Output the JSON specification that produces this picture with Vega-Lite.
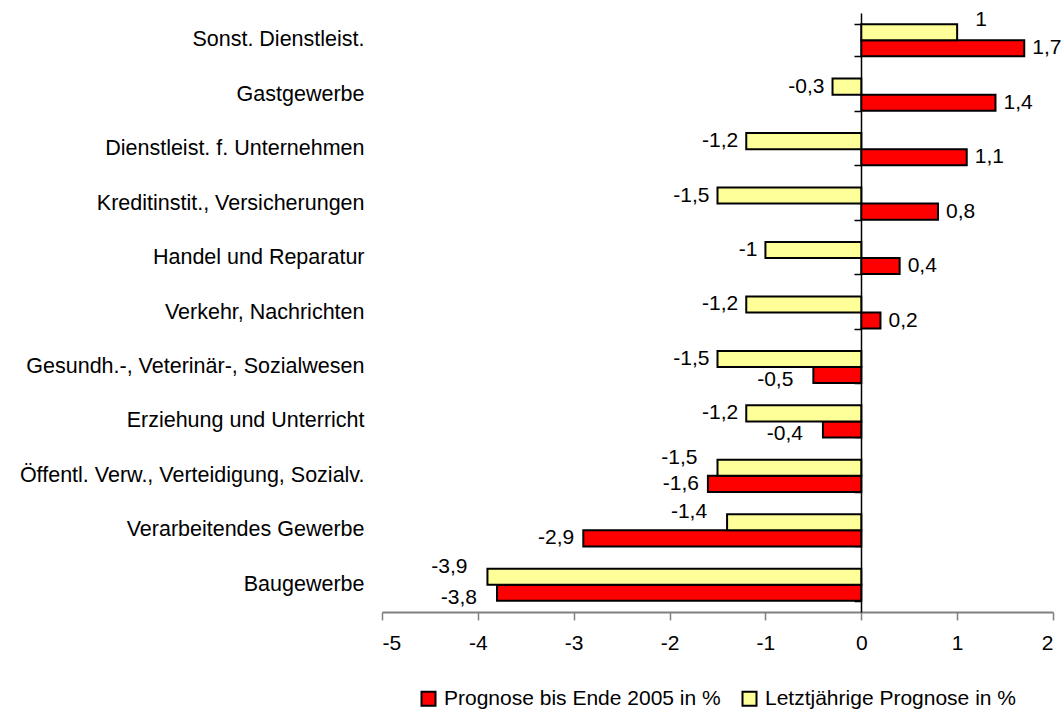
{
  "$schema": "https://vega.github.io/schema/vega-lite/v6.json",
  "width": 671,
  "height": 599,
  "autosize": {"type": "none"},
  "padding": {"left": 382, "top": 13, "right": 10, "bottom": 101},
  "background": "white",
  "config": {
    "locale": {"number": {"decimal": ",", "thousands": ".", "grouping": [3], "currency": ["", " €"], "minus": "-"}},
    "font": "Liberation Sans",
    "view": {"stroke": null},
    "axis": {"labelFont": "Liberation Sans", "labelFontSize": 21, "labelColor": "black", "grid": false, "title": null, "labelLimit": 600},
    "legend": {"labelFont": "Liberation Sans", "labelFontSize": 21, "labelColor": "black", "labelLimit": 600},
    "text": {"fontSize": 21, "color": "black", "baseline": "middle", "font": "Liberation Sans"}
  },
  "data": {
    "values": [
      {"category": "Sonst. Dienstleist.", "series": "Prognose bis Ende 2005 in %", "value": 1.7},
      {"category": "Sonst. Dienstleist.", "series": "Letztjährige Prognose in %", "value": 1},
      {"category": "Gastgewerbe", "series": "Prognose bis Ende 2005 in %", "value": 1.4},
      {"category": "Gastgewerbe", "series": "Letztjährige Prognose in %", "value": -0.3},
      {"category": "Dienstleist. f. Unternehmen", "series": "Prognose bis Ende 2005 in %", "value": 1.1},
      {"category": "Dienstleist. f. Unternehmen", "series": "Letztjährige Prognose in %", "value": -1.2},
      {"category": "Kreditinstit., Versicherungen", "series": "Prognose bis Ende 2005 in %", "value": 0.8},
      {"category": "Kreditinstit., Versicherungen", "series": "Letztjährige Prognose in %", "value": -1.5},
      {"category": "Handel und Reparatur", "series": "Prognose bis Ende 2005 in %", "value": 0.4},
      {"category": "Handel und Reparatur", "series": "Letztjährige Prognose in %", "value": -1},
      {"category": "Verkehr, Nachrichten", "series": "Prognose bis Ende 2005 in %", "value": 0.2},
      {"category": "Verkehr, Nachrichten", "series": "Letztjährige Prognose in %", "value": -1.2},
      {"category": "Gesundh.-, Veterinär-, Sozialwesen", "series": "Prognose bis Ende 2005 in %", "value": -0.5},
      {"category": "Gesundh.-, Veterinär-, Sozialwesen", "series": "Letztjährige Prognose in %", "value": -1.5},
      {"category": "Erziehung und Unterricht", "series": "Prognose bis Ende 2005 in %", "value": -0.4},
      {"category": "Erziehung und Unterricht", "series": "Letztjährige Prognose in %", "value": -1.2},
      {"category": "Öffentl. Verw., Verteidigung, Sozialv. ", "series": "Prognose bis Ende 2005 in %", "value": -1.6},
      {"category": "Öffentl. Verw., Verteidigung, Sozialv. ", "series": "Letztjährige Prognose in %", "value": -1.5},
      {"category": "Verarbeitendes Gewerbe ", "series": "Prognose bis Ende 2005 in %", "value": -2.9},
      {"category": "Verarbeitendes Gewerbe ", "series": "Letztjährige Prognose in %", "value": -1.4},
      {"category": "Baugewerbe", "series": "Prognose bis Ende 2005 in %", "value": -3.8},
      {"category": "Baugewerbe", "series": "Letztjährige Prognose in %", "value": -3.9}
    ]
  },
  "encoding": {
    "x": {"field": "value", "type": "quantitative", "scale": {"domain": [-5, 2], "nice": false},
          "axis": {"values": [-5, -4, -3, -2, -1, 0, 1, 2], "format": "d", "domainColor": "#808080", "domainWidth": 2, "tickColor": "#808080", "tickWidth": 1.5, "tickSize": 8, "labelPadding": 12, "title": null}},
    "y": {"field": "category", "type": "nominal", "sort": null, "axis": null},
    "yOffset": {"field": "series", "type": "nominal"},
    "text": {"field": "value", "type": "quantitative", "format": "~g"}
  },
  "layer": [
    {
      "mark": {"type": "bar", "stroke": "black", "strokeWidth": 2},
      "encoding": {
        "y": {"field": "category", "type": "nominal", "sort": null, "scale": {"paddingInner": 0.41, "paddingOuter": 0.205},
              "axis": {"orient": "left", "domain": false, "ticks": false, "tickSize": 0, "labelPadding": 18, "labelFontSize": 21.5, "title": null}},
        "yOffset": {"field": "series", "type": "nominal", "scale": {"domain": ["Letztjährige Prognose in %", "Prognose bis Ende 2005 in %"], "paddingInner": 0}},
        "text": null,
        "color": {"field": "series", "type": "nominal",
                  "scale": {"domain": ["Prognose bis Ende 2005 in %", "Letztjährige Prognose in %"], "range": ["#FF0000", "#FFFF99"]},
                  "legend": {"orient": "none", "legendX": 36, "legendY": 675, "direction": "horizontal", "title": null, "symbolType": "square", "symbolSize": 196, "symbolStrokeColor": "black", "symbolStrokeWidth": 2, "symbolOpacity": 1, "columnPadding": 17, "labelOffset": 5}}
      }
    },
    {
      "transform": [{"filter": "datum.value >= 0 && datum.series == 'Prognose bis Ende 2005 in %'"}],
      "mark": {"type": "text", "align": "left", "dx": 8}
    },
    {
      "transform": [{"filter": "datum.value >= 0 && datum.series == 'Letztjährige Prognose in %'"}],
      "mark": {"type": "text", "align": "left", "dx": 18, "dy": -12}
    },
    {
      "transform": [{"filter": "datum.value < 0 && datum.series == 'Letztjährige Prognose in %' && indexof(['Öffentl. Verw., Verteidigung, Sozialv. ', 'Verarbeitendes Gewerbe ', 'Baugewerbe'], datum.category) < 0"}],
      "mark": {"type": "text", "align": "right", "dx": -8}
    },
    {
      "transform": [{"filter": "datum.value < 0 && datum.series == 'Letztjährige Prognose in %' && indexof(['Öffentl. Verw., Verteidigung, Sozialv. ', 'Verarbeitendes Gewerbe ', 'Baugewerbe'], datum.category) >= 0"}],
      "mark": {"type": "text", "align": "right", "dx": -20, "dy": -10}
    },
    {
      "transform": [{"filter": "datum.value < 0 && datum.series == 'Prognose bis Ende 2005 in %' && indexof(['Öffentl. Verw., Verteidigung, Sozialv. ', 'Verarbeitendes Gewerbe '], datum.category) >= 0"}],
      "mark": {"type": "text", "align": "right", "dx": -9}
    },
    {
      "transform": [{"filter": "datum.value < 0 && datum.series == 'Prognose bis Ende 2005 in %' && indexof(['Öffentl. Verw., Verteidigung, Sozialv. ', 'Verarbeitendes Gewerbe '], datum.category) < 0"}],
      "mark": {"type": "text", "align": "right", "dx": -20, "dy": 5}
    },
    {
      "mark": {"type": "bar", "opacity": 0},
      "encoding": {
        "x": {"datum": 0, "type": "quantitative"},
        "yOffset": null,
        "text": null,
        "y": {"field": "category", "type": "nominal", "sort": null,
              "axis": {"orient": "left", "offset": -479, "labels": false, "domain": true, "domainColor": "black", "domainWidth": 1.5, "ticks": true, "tickBand": "extent", "tickSize": 7, "tickColor": "black", "tickWidth": 1.5, "title": null}}
      }
    }
  ],
  "resolve": {"axis": {"y": "independent"}}
}
